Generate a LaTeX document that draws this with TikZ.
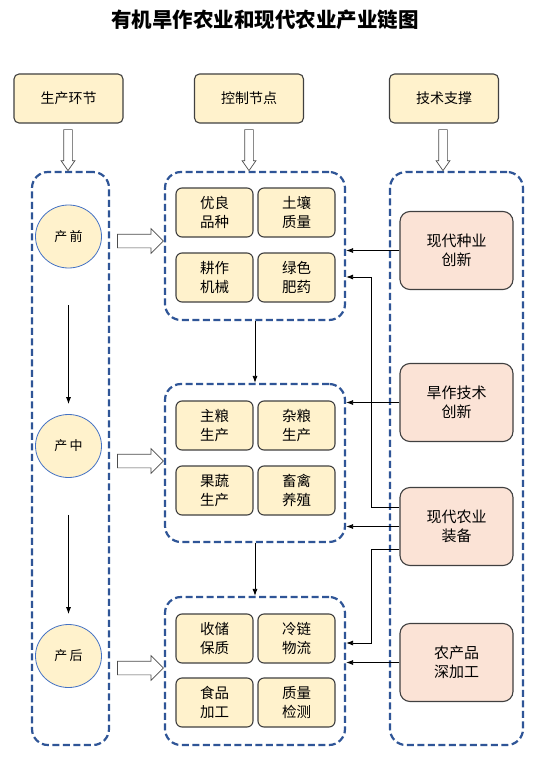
\documentclass[tikz,border=0pt]{standalone}
\usepackage{fontspec}
\setmainfont{Noto Sans CJK SC}
\usetikzlibrary{shapes.geometric,shapes.arrows,arrows.meta}
\definecolor{boxyellow}{HTML}{FFF2CC}
\definecolor{boxpink}{HTML}{FBE3D6}
\definecolor{dashblue}{HTML}{2F5597}
\definecolor{ringblue}{HTML}{4472C4}
\tikzset{
	headbox/.style = {draw = black!75, fill = boxyellow, line width = 1.1pt, rounded corners = 5pt,
		minimum width = 109pt, minimum height = 49pt, font = \fontsize{14}{16}\selectfont},
	itembox/.style = {draw = black!75, fill = boxyellow, line width = 1.1pt, rounded corners = 6pt,
		minimum width = 77pt, minimum height = 49pt, align = center, font = \fontsize{14.5}{19}\selectfont},
	techbox/.style = {draw = black!75, fill = boxpink, line width = 1.1pt, rounded corners = 10pt,
		minimum width = 113pt, minimum height = 78pt, align = center, font = \fontsize{15}{19}\selectfont},
	stage/.style = {ellipse, draw = ringblue, fill = boxyellow, line width = 0.8pt,
		minimum width = 66pt, minimum height = 63pt, font = \fontsize{13}{15}\selectfont},
	group/.style = {draw = dashblue, line width = 2.2pt, dash pattern = on 7pt off 3.5pt, rounded corners = 16pt},
	hollow/.style = {single arrow, draw = black!70, fill = white, line width = 0.7pt, inner xsep = 0pt,
		single arrow head indent = 0pt},
	link/.style = {-{Latex[length = 7pt, width = 5pt]}, line width = 0.8pt}
}
\begin{document}
\begin{tikzpicture}[x = 1pt, y = -1pt]
	\useasboundingbox[fill = white] (0,0) rectangle (538,765);
	\node (title) at (265,20) {\fontsize{20.5}{22}\selectfont\bfseries 有机旱作农业和现代农业产业链图};

	% header boxes
	\node[headbox] (hstage) at (68.5,98.5) {生产环节};
	\node[headbox] (hctrl) at (249,98.5) {控制节点};
	\node[headbox] (htech) at (444,98.5) {技术支撑};

	% dashed groups
	\node[group, minimum width = 77pt, minimum height = 573pt] (gstage) at (70.5,458.5) {};
	\node[group, minimum width = 180pt, minimum height = 148pt] (g1) at (255,246) {};
	\node[group, minimum width = 180pt, minimum height = 158pt] (g2) at (255,463) {};
	\node[group, minimum width = 180pt, minimum height = 148pt] (g3) at (255,671) {};
	\node[group, minimum width = 133pt, minimum height = 573pt] (gtech) at (456.5,458.5) {};

	% hollow arrows
	\node[hollow, rotate = -90, minimum height = 41pt, inner ysep = 4pt, single arrow head extend = 2.5pt,
		single arrow tip angle = 70] (ha) at (68,147) {};
	\node[hollow, rotate = -90, minimum height = 41pt, inner ysep = 4pt, single arrow head extend = 2.5pt,
		single arrow tip angle = 70] (hb) at (249,147) {};
	\node[hollow, rotate = -90, minimum height = 41pt, inner ysep = 4pt, single arrow head extend = 2.5pt,
		single arrow tip angle = 70] (hc) at (443,147) {};

	% stages
	\node[stage] (s1) at (68.5,236.5) {产\,前};
	\node[stage] (s2) at (68.5,446) {产\,中};
	\node[stage] (s3) at (68.5,656) {产\,后};
	\draw[link, shorten <= 37pt, shorten >= 10pt] (s1) -- (s2);
	\draw[link, shorten <= 37pt, shorten >= 10pt] (s2) -- (s3);
	\node[hollow, minimum height = 46pt, inner ysep = 6.5pt, single arrow head extend = 5.5pt] (r1) at (137,241) {};
	\node[hollow, minimum height = 46pt, inner ysep = 6.5pt, single arrow head extend = 5.5pt] (r2) at (137,461) {};
	\node[hollow, minimum height = 46pt, inner ysep = 6.5pt, single arrow head extend = 5.5pt] (r3) at (137,668) {};

	% control points
	\node[itembox] (seed) at (214.5,212.5) {优良\\品种};
	\node[itembox] (soil) at (296.5,212.5) {土壤\\质量};
	\node[itembox] (tool) at (214.5,277.5) {耕作\\机械};
	\node[itembox] (fert) at (296.5,277.5) {绿色\\肥药};
	\node[itembox] (grain) at (214.5,425.5) {主粮\\生产};
	\node[itembox] (misc) at (296.5,425.5) {杂粮\\生产};
	\node[itembox] (fruit) at (214.5,490.5) {果蔬\\生产};
	\node[itembox] (stock) at (296.5,490.5) {畜禽\\养殖};
	\node[itembox] (store) at (214.5,638.5) {收储\\保质};
	\node[itembox] (cold) at (296.5,638.5) {冷链\\物流};
	\node[itembox] (food) at (214.5,702.5) {食品\\加工};
	\node[itembox] (check) at (296.5,702.5) {质量\\检测};
	\draw[link] (g1.south) -- (g2.north);
	\draw[link] (g2.south) -- (g3.north);

	% technology support
	\node[techbox] (t1) at (456.5,250.5) {现代种业\\创新};
	\node[techbox] (t2) at (456.5,402.5) {旱作技术\\创新};
	\node[techbox] (t3) at (456.5,526.5) {现代农业\\装备};
	\node[techbox] (t4) at (456.5,662.5) {农产品\\深加工};
	\draw[link] (t1.west) -- (t1.west -| g1.east);
	\draw[link] (t2.west) -- (t2.west -| g2.east);
	\draw[link] (t3.west) -- (t3.west -| g2.east);
	\draw[link] (t4.west) -- (t4.west -| g3.east);
	\draw[link] ([yshift = 19.5pt]t3.west) -- ++(-28,0) |- ([yshift = -31pt]g1.east);
	\draw[link] ([yshift = -22.5pt]t3.west) -- ++(-28,0) |- ([yshift = 28pt]g3.east);
\end{tikzpicture}
\end{document}
